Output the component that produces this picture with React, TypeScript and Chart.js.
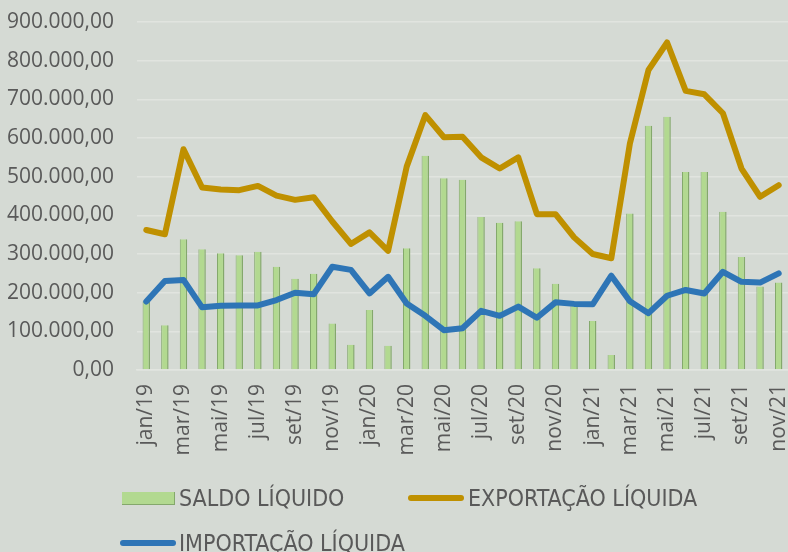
import React, { useEffect, useRef } from "react";
import { Chart, registerables } from "chart.js";

Chart.register(...registerables);

const months = [
  "jan/19", "fev/19", "mar/19", "abr/19", "mai/19", "jun/19", "jul/19", "ago/19", "set/19", "out/19", "nov/19", "dez/19",
  "jan/20", "fev/20", "mar/20", "abr/20", "mai/20", "jun/20", "jul/20", "ago/20", "set/20", "out/20", "nov/20", "dez/20",
  "jan/21", "fev/21", "mar/21", "abr/21", "mai/21", "jun/21", "jul/21", "ago/21", "set/21", "out/21", "nov/21",
];

const saldoLiquido = [
  178000, 116000, 338000, 312000, 302000, 297000, 306000, 267000, 236000, 249000, 120000, 65000,
  155000, 63000, 315000, 554000, 496000, 492000, 396000, 381000, 385000, 263000, 223000, 168000,
  127000, 39000, 405000, 632000, 655000, 512000, 512000, 409000, 292000, 216000, 226000,
];

const exportacaoLiquida = [
  362000, 351000, 571000, 472000, 467000, 465000, 476000, 451000, 440000, 447000, 384000, 326000,
  356000, 308000, 526000, 659000, 602000, 603000, 550000, 521000, 550000, 403000, 403000, 343000,
  300000, 289000, 586000, 776000, 847000, 722000, 713000, 664000, 521000, 448000, 478000,
];

const importacaoLiquida = [
  177000, 230000, 233000, 162000, 166000, 167000, 167000, 181000, 200000, 196000, 267000, 259000,
  198000, 241000, 172000, 140000, 103000, 108000, 153000, 140000, 164000, 135000, 175000, 171000,
  170000, 244000, 178000, 147000, 192000, 207000, 198000, 254000, 228000, 226000, 250000,
];

const yMin = 0;
const yMax = 900000;
const yStep = 100000;

const seriesNames = ["SALDO LÍQUIDO", "EXPORTAÇÃO LÍQUIDA", "IMPORTAÇÃO LÍQUIDA"];

const BG = "#d5dad4";
const GREEN = "#b2d990";
const GREEN_EDGE = "#84a86c";
const GOLD = "#bf9000";
const BLUE = "#2e75b6";
const TEXT = "#595959";

function fmt(v: number): string {
  const s = Math.round(v).toString().replace(/\B(?=(\d{3})+(?!\d))/g, ".");
  return s + ",00";
}

export default function App() {
  const ref = useRef<HTMLCanvasElement | null>(null);

  useEffect(() => {
    if (!ref.current) return;
    const chart = new Chart(ref.current, {
      type: "bar",
      data: {
        labels: months,
        datasets: [
          {
            type: "line",
            label: seriesNames[2],
            data: importacaoLiquida,
            borderColor: BLUE,
            backgroundColor: BLUE,
            borderWidth: 6,
            pointRadius: 0,
            tension: 0,
            borderCapStyle: "round",
            borderJoinStyle: "round",
            order: 0,
          },
          {
            type: "line",
            label: seriesNames[1],
            data: exportacaoLiquida,
            borderColor: GOLD,
            backgroundColor: GOLD,
            borderWidth: 6,
            pointRadius: 0,
            tension: 0,
            borderCapStyle: "round",
            borderJoinStyle: "round",
            order: 1,
          },
          {
            type: "bar",
            label: seriesNames[0],
            data: saldoLiquido,
            backgroundColor: GREEN,
            borderColor: GREEN_EDGE,
            borderWidth: { left: 1, right: 1.5, top: 0, bottom: 0 },
            borderSkipped: false,
            barPercentage: 0.4,
            categoryPercentage: 1,
            order: 2,
          },
        ],
      } as any,
      options: {
        animation: false,
        responsive: false,
        devicePixelRatio: 1,
        layout: { padding: { top: 22, right: 0, bottom: 72, left: 0 } },
        plugins: {
          legend: { display: false },
          tooltip: { enabled: false },
        },
        scales: {
          x: {
            grid: { display: false, drawTicks: false },
            border: { display: true, color: "#e2e5e0", width: 1.5 },
            ticks: {
              autoSkip: false,
              maxRotation: 90,
              minRotation: 90,
              padding: 14,
              color: TEXT,
              font: { family: "'Open Sans', sans-serif", size: 21 },
              callback: (_v: any, i: number) => (i % 2 === 0 ? months[i] : ""),
            },
            afterFit: (s: any) => {
              s.height = 110;
              s.paddingLeft = 0;
              s.paddingRight = 0;
            },
          },
          y: {
            min: yMin,
            max: yMax,
            grid: { color: "#e1e4df", lineWidth: 1.5, drawTicks: false },
            border: { display: false },
            ticks: {
              stepSize: yStep,
              padding: 23,
              color: TEXT,
              font: { family: "'Open Sans', sans-serif", size: 21 },
              callback: (v: any) => fmt(Number(v)),
            },
            afterFit: (s: any) => {
              s.width = 137;
              s.paddingTop = 0;
              s.paddingBottom = 0;
            },
          },
        },
      } as any,
    });
    return () => chart.destroy();
  }, []);

  const legendFont = "'Liberation Sans Narrow', 'DejaVu Sans Condensed', 'Open Sans', sans-serif";
  const textStyle: React.CSSProperties = {
    position: "absolute",
    fontFamily: legendFont,
    fontStretch: "condensed",
    fontSize: 23,
    color: TEXT,
    lineHeight: "24px",
    whiteSpace: "nowrap",
  };

  return (
    <div style={{ position: "absolute", left: 0, top: 0, width: 788, height: 552, background: BG, overflow: "hidden" }}>
      <canvas ref={ref} width={788} height={552} style={{ position: "absolute", left: 0, top: 0, width: 788, height: 552 }} />
      <div style={{ position: "absolute", left: 122, top: 492, width: 52, height: 12, background: GREEN, borderRight: `1.5px solid ${GREEN_EDGE}`, borderBottom: `1px solid ${GREEN_EDGE}` }} />
      <div style={{ ...textStyle, left: 179, top: 486 }}>{seriesNames[0]}</div>
      <div style={{ position: "absolute", left: 408, top: 495, width: 56, height: 6, borderRadius: 3, background: GOLD }} />
      <div style={{ ...textStyle, left: 468, top: 486 }}>{seriesNames[1]}</div>
      <div style={{ position: "absolute", left: 120, top: 540, width: 56, height: 6, borderRadius: 3, background: BLUE }} />
      <div style={{ ...textStyle, left: 179, top: 531 }}>{seriesNames[2]}</div>
    </div>
  );
}
